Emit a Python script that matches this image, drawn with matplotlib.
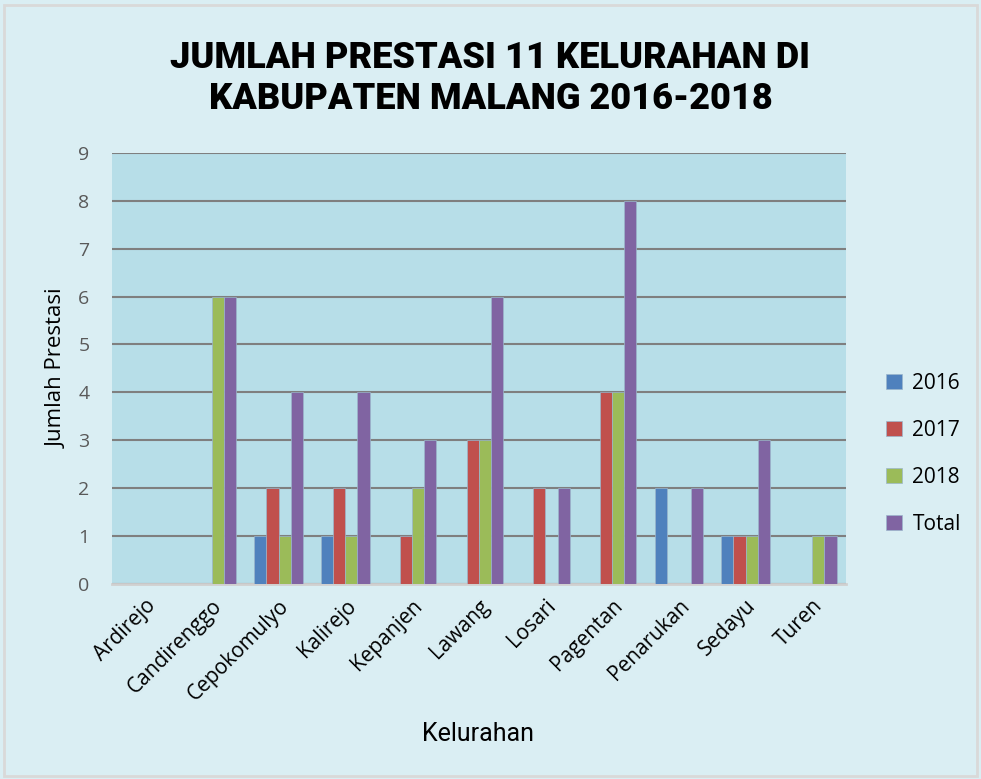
import numpy as np
import matplotlib.pyplot as plt

kelurahan = ['Ardirejo', 'Candirenggo', 'Cepokomulyo', 'Kalirejo', 'Kepanjen', 'Lawang',
             'Losari', 'Pagentan', 'Penarukan', 'Sedayu', 'Turen']
th2016 = [0, 0, 1, 1, 0, 0, 0, 0, 2, 1, 0]
th2017 = [0, 0, 2, 2, 1, 3, 2, 4, 0, 1, 0]
th2018 = [0, 6, 1, 1, 2, 3, 0, 4, 0, 1, 1]
total = [0, 6, 4, 4, 3, 6, 2, 8, 2, 3, 1]
series_names = ['2016', '2017', '2018', 'Total']
colors = ['#4F81BD', '#C0504D', '#9BBB59', '#8064A2']

fig = plt.figure(figsize=(9.81, 7.79), dpi=100, facecolor='#DAEEF3')
ax = fig.add_axes([0.114, 0.250, 0.748, 0.554])
ax.set_facecolor('#B7DEE8')

x = np.arange(len(kelurahan))
w = 1 / 5.5
for i, (vals, name, col) in enumerate(zip([th2016, th2017, th2018, total], series_names, colors)):
    ax.bar(x + (i - 1.5) * w, vals, width=w, color=col, label=name,
           edgecolor='#9bb6cc', linewidth=0.5, zorder=3)

ax.set_xlim(-0.5, len(kelurahan) - 0.5)
ax.set_ylim(0, 9)
ax.set_yticks(range(10))
ax.yaxis.grid(True, color='#7f7f7f', linewidth=1.5, zorder=1)
ax.set_axisbelow(True)
for s in ['top', 'right', 'left']:
    ax.spines[s].set_visible(False)
ax.spines['bottom'].set_color('#d0d0d0')
ax.spines['bottom'].set_linewidth(2)
ax.tick_params(axis='y', length=0, labelsize=14, labelcolor='#595959', pad=16)
ax.tick_params(axis='x', length=0, labelsize=15, pad=8)
ax.set_xticks(x)
ax.set_xticklabels(kelurahan, rotation=45, ha='right', rotation_mode='anchor', family='Open Sans')
for t in ax.get_yticklabels():
    t.set_family('Open Sans')

ax.set_ylabel('Jumlah Prestasi', fontsize=16, family='Open Sans', labelpad=8)
fig.text(0.487, 0.058, 'Kelurahan', fontsize=18, ha='center', va='center',
         family='Roboto', fontstretch='condensed')

fig.text(0.5, 0.899, 'JUMLAH PRESTASI 11 KELURAHAN DI\nKABUPATEN MALANG 2016-2018',
         ha='center', va='center', fontsize=26, fontweight='heavy', family='Roboto',
         linespacing=1.2)

ax.legend(loc='center left', bbox_to_anchor=(1.03, 0.302), frameon=False,
          handlelength=0.75, handleheight=0.75, labelspacing=1.25, handletextpad=0.5,
          prop={'family': 'Open Sans', 'size': 15})

fig.patches.append(plt.Rectangle((0.004, 0.004), 0.992, 0.99, transform=fig.transFigure,
                                 fill=False, edgecolor='#d9d9d9', linewidth=2))

fig.savefig('out.png', dpi=100, facecolor=fig.get_facecolor())
